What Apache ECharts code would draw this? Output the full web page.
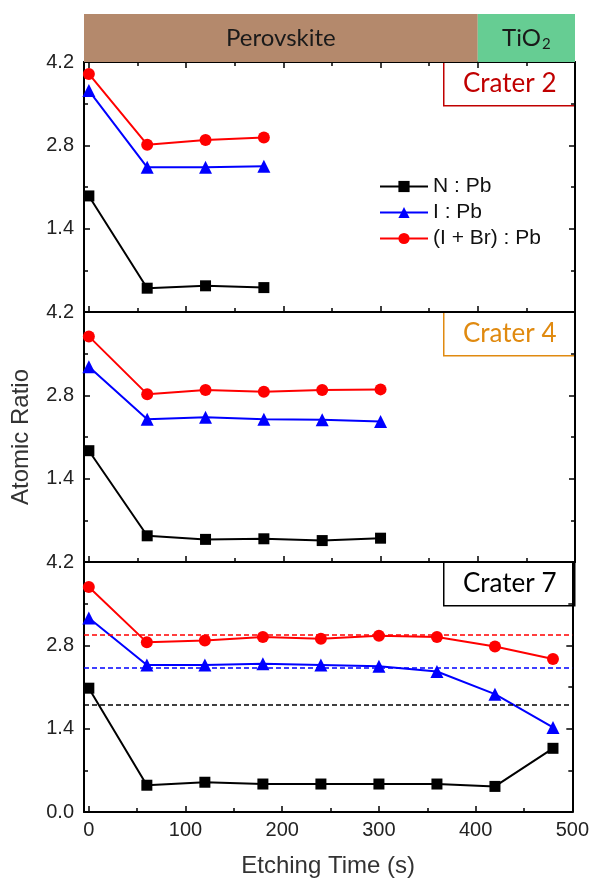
<!DOCTYPE html>
<html>
<head>
<meta charset="utf-8">
<script src="https://cdn.jsdelivr.net/npm/echarts@6/dist/echarts.min.js"></script>
<style>
  html, body { margin: 0; padding: 0; background: #fff; }
  #chart { width: 592px; height: 882px; }
</style>
</head>
<body>
<div id="chart"></div>
<script>
// etching time (s) for each crater
var timeTop = [0, 60, 120, 180];
var timeMid = [0, 60, 120, 180, 240, 300];
var timeBot = [0, 60, 120, 180, 240, 300, 360, 420, 480];

// Crater 2
var nPbTop = [1.95, 0.40, 0.44, 0.41];
var iPbTop = [3.72, 2.43, 2.43, 2.45];
var ibrPbTop = [4.00, 2.81, 2.89, 2.93];

// Crater 4
var nPbMid = [1.87, 0.44, 0.38, 0.39, 0.36, 0.40];
var iPbMid = [3.28, 2.40, 2.43, 2.40, 2.39, 2.36];
var ibrPbMid = [3.79, 2.82, 2.89, 2.86, 2.89, 2.90];

// Crater 7
var nPbBot = [2.08, 0.45, 0.50, 0.47, 0.47, 0.47, 0.47, 0.43, 1.07];
var iPbBot = [3.26, 2.47, 2.47, 2.49, 2.47, 2.45, 2.36, 1.98, 1.42];
var ibrPbBot = [3.78, 2.85, 2.88, 2.94, 2.91, 2.96, 2.94, 2.78, 2.57];

// dashed reference levels in crater 7 (red, blue, black)
var refLevels = [2.97, 2.42, 1.81];

var seriesNames = ['N : Pb', 'I : Pb', '(I + Br) : Pb'];
var craterNames = ['Crater 2', 'Crater 4', 'Crater 7'];
var layerNames = ['Perovskite', 'TiO2'];
var layerEdges = [-5, 400, 500];

var dom = document.getElementById('chart');
var myChart = echarts.init(dom);

var font = 'Liberation Sans, Arial, sans-serif';
var plotLeft = 84, plotRight = 17, panelH = 250, firstTop = 62;

function zip(xs, ys) {
    var out = [];
    for (var i = 0; i < xs.length; i++) out.push([xs[i], ys[i]]);
    return out;
}

var tickStyle = {inside: true, length: 6, lineStyle: {color: '#000', width: 1.5}};
var minorStyle = {show: true, splitNumber: 2, length: 4, lineStyle: {color: '#000', width: 1.5}};
var lineStyleAxis = {show: true, onZero: false, lineStyle: {color: '#000', width: 2}};

var grids = [], xAxes = [], yAxes = [], series = [];

for (var p = 0; p < 3; p++) {
    grids.push({left: plotLeft, right: plotRight, top: firstTop + p * panelH, height: panelH});
    xAxes.push({
        gridIndex: p, type: 'value', min: -5, max: 500, splitNumber: 5,
        axisLine: lineStyleAxis,
        axisTick: tickStyle,
        minorTick: minorStyle,
        splitLine: {show: false},
        axisLabel: {
            show: p === 2, color: '#222', fontSize: 20, fontFamily: font, margin: 8,
            formatter: function (v) { return v < 0 ? '' : v; }
        },
        name: p === 2 ? 'Etching Time (s)' : '',
        nameLocation: 'middle', nameGap: 42,
        nameTextStyle: {color: '#333', fontSize: 24, fontFamily: font}
    });
    yAxes.push({
        gridIndex: p, type: 'value', min: 0, max: 4.2, interval: 1.4,
        axisLine: lineStyleAxis,
        axisTick: tickStyle,
        minorTick: minorStyle,
        splitLine: {show: false},
        axisLabel: {
            color: '#222', fontSize: 20, fontFamily: font, margin: 10,
            showMinLabel: p === 2,
            formatter: function (v) { return v.toFixed(1); }
        },
        name: p === 1 ? 'Atomic Ratio' : '',
        nameLocation: 'middle', nameGap: 51,
        nameTextStyle: {color: '#333', fontSize: 24, fontFamily: font}
    });
    yAxes.push({
        gridIndex: p, type: 'value', min: 0, max: 4.2, interval: 1.4, position: 'right',
        axisLine: lineStyleAxis,
        axisTick: tickStyle,
        minorTick: minorStyle,
        splitLine: {show: false},
        axisLabel: {show: false}
    });
}

// top axis of the first panel
xAxes.push({
    gridIndex: 0, type: 'value', min: -5, max: 500, splitNumber: 5, position: 'top',
    axisLine: lineStyleAxis,
    axisTick: tickStyle,
    minorTick: minorStyle,
    splitLine: {show: false},
    axisLabel: {show: false}
});

// layer strip above the plots
grids.push({left: plotLeft, right: plotRight, top: 14, height: 48});
xAxes.push({gridIndex: 3, type: 'value', min: -5, max: 500, show: false});
yAxes.push({gridIndex: 3, type: 'value', min: 0, max: 1, show: false});

var panels = [
    {t: timeTop, d: [nPbTop, iPbTop, ibrPbTop]},
    {t: timeMid, d: [nPbMid, iPbMid, ibrPbMid]},
    {t: timeBot, d: [nPbBot, iPbBot, ibrPbBot]}
];
var colors = ['#000000', '#0000ff', '#ff0000'];
var symbols = ['rect', 'triangle', 'circle'];
var symbolSizes = [11, 13, 12];

panels.forEach(function (panel, p) {
    for (var s = 0; s < 3; s++) {
        var ser = {
            name: seriesNames[s], type: 'line',
            xAxisIndex: p, yAxisIndex: p * 2,
            data: zip(panel.t, panel.d[s]),
            symbol: symbols[s], symbolSize: symbolSizes[s],
            itemStyle: {color: colors[s]},
            lineStyle: {color: colors[s], width: 2},
            z: 3 + s
        };
        if (p === 2) {
            ser.markLine = {
                silent: true, symbol: 'none', label: {show: false},
                lineStyle: {color: colors[s], type: [5, 3], width: 1.5},
                data: [{yAxis: refLevels[2 - s]}]
            };
        }
        series.push(ser);
    }
});

var stripColors = ['#b4896c', '#66cd93'];
var stripFont = 'Lato, sans-serif';
series.push({
    type: 'line', xAxisIndex: 4, yAxisIndex: 6,
    data: [], silent: true,
    markArea: {
        silent: true,
        label: {
            position: 'inside', color: '#1a1a1a', fontSize: 24, fontFamily: stripFont,
            formatter: function (params) {
                return params.name === 'TiO2' ? '{a|TiO}{b|2}' : params.name;
            },
            rich: {
                a: {fontSize: 24, fontFamily: stripFont, color: '#1a1a1a'},
                b: {fontSize: 15, fontFamily: stripFont, color: '#1a1a1a', padding: [12, 0, 0, 1]}
            }
        },
        data: [
            [{name: layerNames[0], xAxis: layerEdges[0], itemStyle: {color: stripColors[0]}}, {xAxis: layerEdges[1]}],
            [{name: layerNames[1], xAxis: layerEdges[1], itemStyle: {color: stripColors[1]}}, {xAxis: layerEdges[2]}]
        ]
    }
});

// crater tags in the upper right corner of each panel
var tagColors = ['#c00000', '#e08a10', '#000000'];
var graphics = [];
for (var g = 0; g < 3; g++) {
    graphics.push({
        type: 'group', left: 443, top: firstTop + g * panelH - 1,
        children: [
            {type: 'rect', shape: {x: 0, y: 0, width: 131, height: 44},
                style: {fill: '#fff', stroke: tagColors[g], lineWidth: 1.5}},
            {type: 'text', x: 66, y: 22,
                style: {text: craterNames[g], fill: tagColors[g], font: '26px Lato, sans-serif',
                    textAlign: 'center', textVerticalAlign: 'middle'}}
        ]
    });
}

var option = {
    animation: false,
    grid: grids,
    xAxis: xAxes,
    yAxis: yAxes,
    legend: {
        data: seriesNames, orient: 'vertical', left: 379, top: 176, padding: 0,
        itemWidth: 48, itemHeight: 14, itemGap: 5,
        textStyle: {color: '#111', fontSize: 21, fontFamily: font}
    },
    graphic: graphics,
    series: series
};

myChart.setOption(option);
</script>
</body>
</html>
